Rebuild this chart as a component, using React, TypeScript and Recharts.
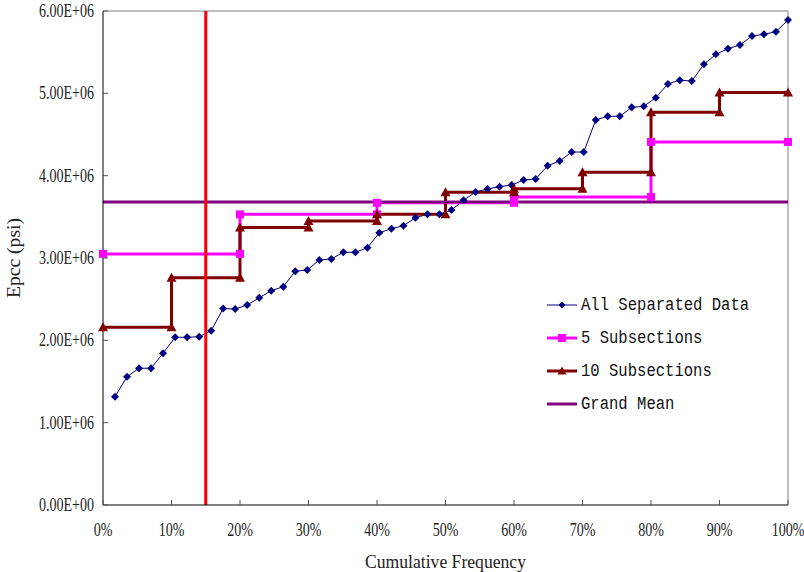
import { Legend, Line, LineChart, ReferenceLine, XAxis, YAxis } from "recharts";

// cumulative frequency (%) of each sorted observation
const FREQ = [
  1.75, 3.51, 5.26, 7.02, 8.77, 10.53, 12.28, 14.04, 15.79, 17.54, 19.3, 21.05, 22.81, 24.56,
  26.32, 28.07, 29.82, 31.58, 33.33, 35.09, 36.84, 38.6, 40.35, 42.11, 43.86, 45.61, 47.37,
  49.12, 50.88, 52.63, 54.39, 56.14, 57.89, 59.65, 61.4, 63.16, 64.91, 66.67, 68.42, 70.18,
  71.93, 73.68, 75.44, 77.19, 78.95, 80.7, 82.46, 84.21, 85.96, 87.72, 89.47, 91.23, 92.98,
  94.74, 96.49, 98.25, 100,
];

// Epcc, in millions of psi
const EPCC = [
  1.315, 1.558, 1.661, 1.661, 1.842, 2.037, 2.037, 2.044, 2.117, 2.386, 2.38, 2.429, 2.517,
  2.603, 2.652, 2.839, 2.854, 2.976, 2.988, 3.069, 3.069, 3.125, 3.307, 3.356, 3.392, 3.489,
  3.531, 3.531, 3.583, 3.701, 3.801, 3.838, 3.866, 3.886, 3.947, 3.959, 4.121, 4.178, 4.287,
  4.287, 4.676, 4.721, 4.721, 4.83, 4.842, 4.947, 5.114, 5.159, 5.15, 5.352, 5.474, 5.542,
  5.587, 5.696, 5.717, 5.749, 5.891,
];

const SUB5_X = [0, 20, 20, 40, 40, 60, 60, 80, 80, 100];
const SUB5_Y = [3.05, 3.05, 3.53, 3.53, 3.67, 3.67, 3.74, 3.74, 4.41, 4.41];

const SUB10_X = [0, 10, 10, 20, 20, 30, 30, 40, 40, 50, 50, 60, 60, 70, 70, 80, 80, 90, 90, 100];
const SUB10_Y = [
  2.16, 2.16, 2.76, 2.76, 3.37, 3.37, 3.45, 3.45, 3.53, 3.53, 3.8, 3.8, 3.84, 3.84, 4.04, 4.04,
  4.77, 4.77, 5.01, 5.01,
];

const GRAND_MEAN = 3.68;
const CUTOFF = 15;

const X_TICKS = [0, 10, 20, 30, 40, 50, 60, 70, 80, 90, 100];
const Y_TICKS = [0, 1, 2, 3, 4, 5, 6];

const NAMES = ["All Separated Data", "5 Subsections", "10 Subsections", "Grand Mean"];

const NAVY = "#000080";
const MAGENTA = "#ff00ff";
const MAROON = "#800000";
const PURPLE = "#800080";
const RED = "#ff0000";
const SERIF = "'Liberation Serif', 'Times New Roman', serif";
const MONO = "'Liberation Mono', 'DejaVu Sans Mono', monospace";

const allData = FREQ.map((x, i) => ({ x, y: EPCC[i] }));
const sub5Data = SUB5_X.map((x, i) => ({ x, y: SUB5_Y[i] }));
const sub10Data = SUB10_X.map((x, i) => ({ x, y: SUB10_Y[i] }));
const meanData = [
  { x: 0, y: GRAND_MEAN },
  { x: 100, y: GRAND_MEAN },
];

const fmtE = (v: number) => (v === 0 ? "0.00E+00" : `${v.toFixed(2)}E+06`);

function diamond(cx: number, cy: number, r: number) {
  return `M${cx},${cy - r}L${cx + r},${cy}L${cx},${cy + r}L${cx - r},${cy}Z`;
}
function triangle(cx: number, cy: number, r = 5) {
  return `M${cx},${cy - r}L${cx + r},${cy + r * 0.8}L${cx - r},${cy + r * 0.8}Z`;
}

const diamondDot = (p: any) =>
  p.cx == null ? null : <path key={`d${p.index}`} d={diamond(p.cx, p.cy, 4)} fill={NAVY} />;
const squareDot = (p: any) =>
  p.cx == null ? null : (
    <rect key={`s${p.index}`} x={p.cx - 4} y={p.cy - 4} width={8} height={8} fill={MAGENTA} />
  );
const triangleDot = (p: any) =>
  p.cx == null ? null : <path key={`t${p.index}`} d={triangle(p.cx, p.cy)} fill={MAROON} />;

function YTick({ x, y, payload }: any) {
  return (
    <g>
      <line x1={x} x2={x + 5} y1={y} y2={y} stroke="#555" />
      <text
        transform={`translate(${x - 9},${y}) scale(0.78,1)`}
        textAnchor="end"
        dominantBaseline="central"
        fontFamily={SERIF}
        fontSize={18}
        fill="#222"
      >
        {fmtE(payload.value)}
      </text>
    </g>
  );
}

function XTick({ x, y, payload }: any) {
  return (
    <g>
      <line x1={x} x2={x} y1={y} y2={y - 5} stroke="#555" />
      <text
        transform={`translate(${x},${y + 25}) scale(0.78,1)`}
        textAnchor="middle"
        dominantBaseline="central"
        fontFamily={SERIF}
        fontSize={18}
        fill="#222"
      >
        {`${payload.value}%`}
      </text>
    </g>
  );
}

function LegendBox() {
  const rows = [
    { color: NAVY, width: 1, mark: "diamond" },
    { color: MAGENTA, width: 3, mark: "square" },
    { color: MAROON, width: 3, mark: "triangle" },
    { color: PURPLE, width: 3, mark: "none" },
  ];
  return (
    <svg width={250} height={135}>
      {rows.map((r, i) => {
        const cy = 17 + i * 33;
        return (
          <g key={NAMES[i]}>
            <line x1={7} x2={37} y1={cy} y2={cy} stroke={r.color} strokeWidth={r.width} />
            {r.mark === "diamond" && <path d={diamond(22, cy, 3.5)} fill={r.color} />}
            {r.mark === "square" && <rect x={18} y={cy - 4} width={8} height={8} fill={r.color} />}
            {r.mark === "triangle" && <path d={triangle(22, cy, 4.5)} fill={r.color} />}
            <text
              transform={`translate(41,${cy}) scale(0.82,1)`}
              dominantBaseline="central"
              fontFamily={MONO}
              fontSize={19}
              fill="#111"
            >
              {NAMES[i]}
            </text>
          </g>
        );
      })}
    </svg>
  );
}

export default function App() {
  return (
    <div style={{ position: "absolute", left: 0, top: 0, background: "#fff" }}>
      <LineChart width={804} height={572} margin={{ top: 11, right: 16, left: 0, bottom: 0 }}>
        <XAxis
          dataKey="x"
          type="number"
          domain={[0, 100]}
          ticks={X_TICKS}
          height={67}
          tickSize={0}
          tickMargin={0}
          tick={<XTick />}
          axisLine={{ stroke: "#000" }}
          label={{
            value: "Cumulative Frequency",
            content: ({ viewBox }: any) => (
              <text
                x={viewBox.x + viewBox.width / 2}
                y={viewBox.y + 56}
                textAnchor="middle"
                dominantBaseline="central"
                fontFamily={SERIF}
                fontSize={19}
                textLength={161}
                lengthAdjust="spacingAndGlyphs"
                fill="#222"
              >
                Cumulative Frequency
              </text>
            ),
          }}
        />
        <YAxis
          dataKey="y"
          type="number"
          domain={[0, 6]}
          ticks={Y_TICKS}
          width={103}
          tickSize={0}
          tickMargin={0}
          tick={<YTick />}
          axisLine={{ stroke: "#000" }}
          label={{
            value: "Epcc (psi)",
            content: ({ viewBox }: any) => {
              const cx = 13;
              const cy = viewBox.y + viewBox.height / 2;
              return (
                <text
                  x={cx}
                  y={cy}
                  transform={`rotate(-90 ${cx} ${cy})`}
                  textAnchor="middle"
                  dominantBaseline="central"
                  fontFamily={SERIF}
                  fontSize={19}
                  textLength={80}
                  lengthAdjust="spacingAndGlyphs"
                  fill="#222"
                >
                  Epcc (psi)
                </text>
              );
            },
          }}
        />
        <ReferenceLine y={6} stroke="#808080" />
        <ReferenceLine x={100} stroke="#808080" />
        <Line
          data={allData}
          dataKey="y"
          name={NAMES[0]}
          stroke={NAVY}
          strokeWidth={1}
          dot={diamondDot}
          isAnimationActive={false}
        />
        <Line
          data={sub5Data}
          dataKey="y"
          name={NAMES[1]}
          stroke={MAGENTA}
          strokeWidth={3}
          dot={false}
          isAnimationActive={false}
        />
        <Line
          data={sub10Data}
          dataKey="y"
          name={NAMES[2]}
          stroke={MAROON}
          strokeWidth={3}
          dot={false}
          isAnimationActive={false}
        />
        <Line
          data={meanData}
          dataKey="y"
          name={NAMES[3]}
          stroke={PURPLE}
          strokeWidth={3}
          dot={false}
          isAnimationActive={false}
        />
        {/* markers of the step series sit above the grand mean line */}
        <Line
          data={sub5Data}
          dataKey="y"
          stroke="none"
          dot={squareDot}
          legendType="none"
          isAnimationActive={false}
        />
        <Line
          data={sub10Data}
          dataKey="y"
          stroke="none"
          dot={triangleDot}
          legendType="none"
          isAnimationActive={false}
        />
        <ReferenceLine x={CUTOFF} stroke={RED} strokeWidth={3} />
        <Legend
          layout="horizontal"
          align="center"
          verticalAlign="middle"
          content={() => <LegendBox />}
          wrapperStyle={{ left: 540, top: 288, width: 250, height: 135 }}
        />
      </LineChart>
    </div>
  );
}
